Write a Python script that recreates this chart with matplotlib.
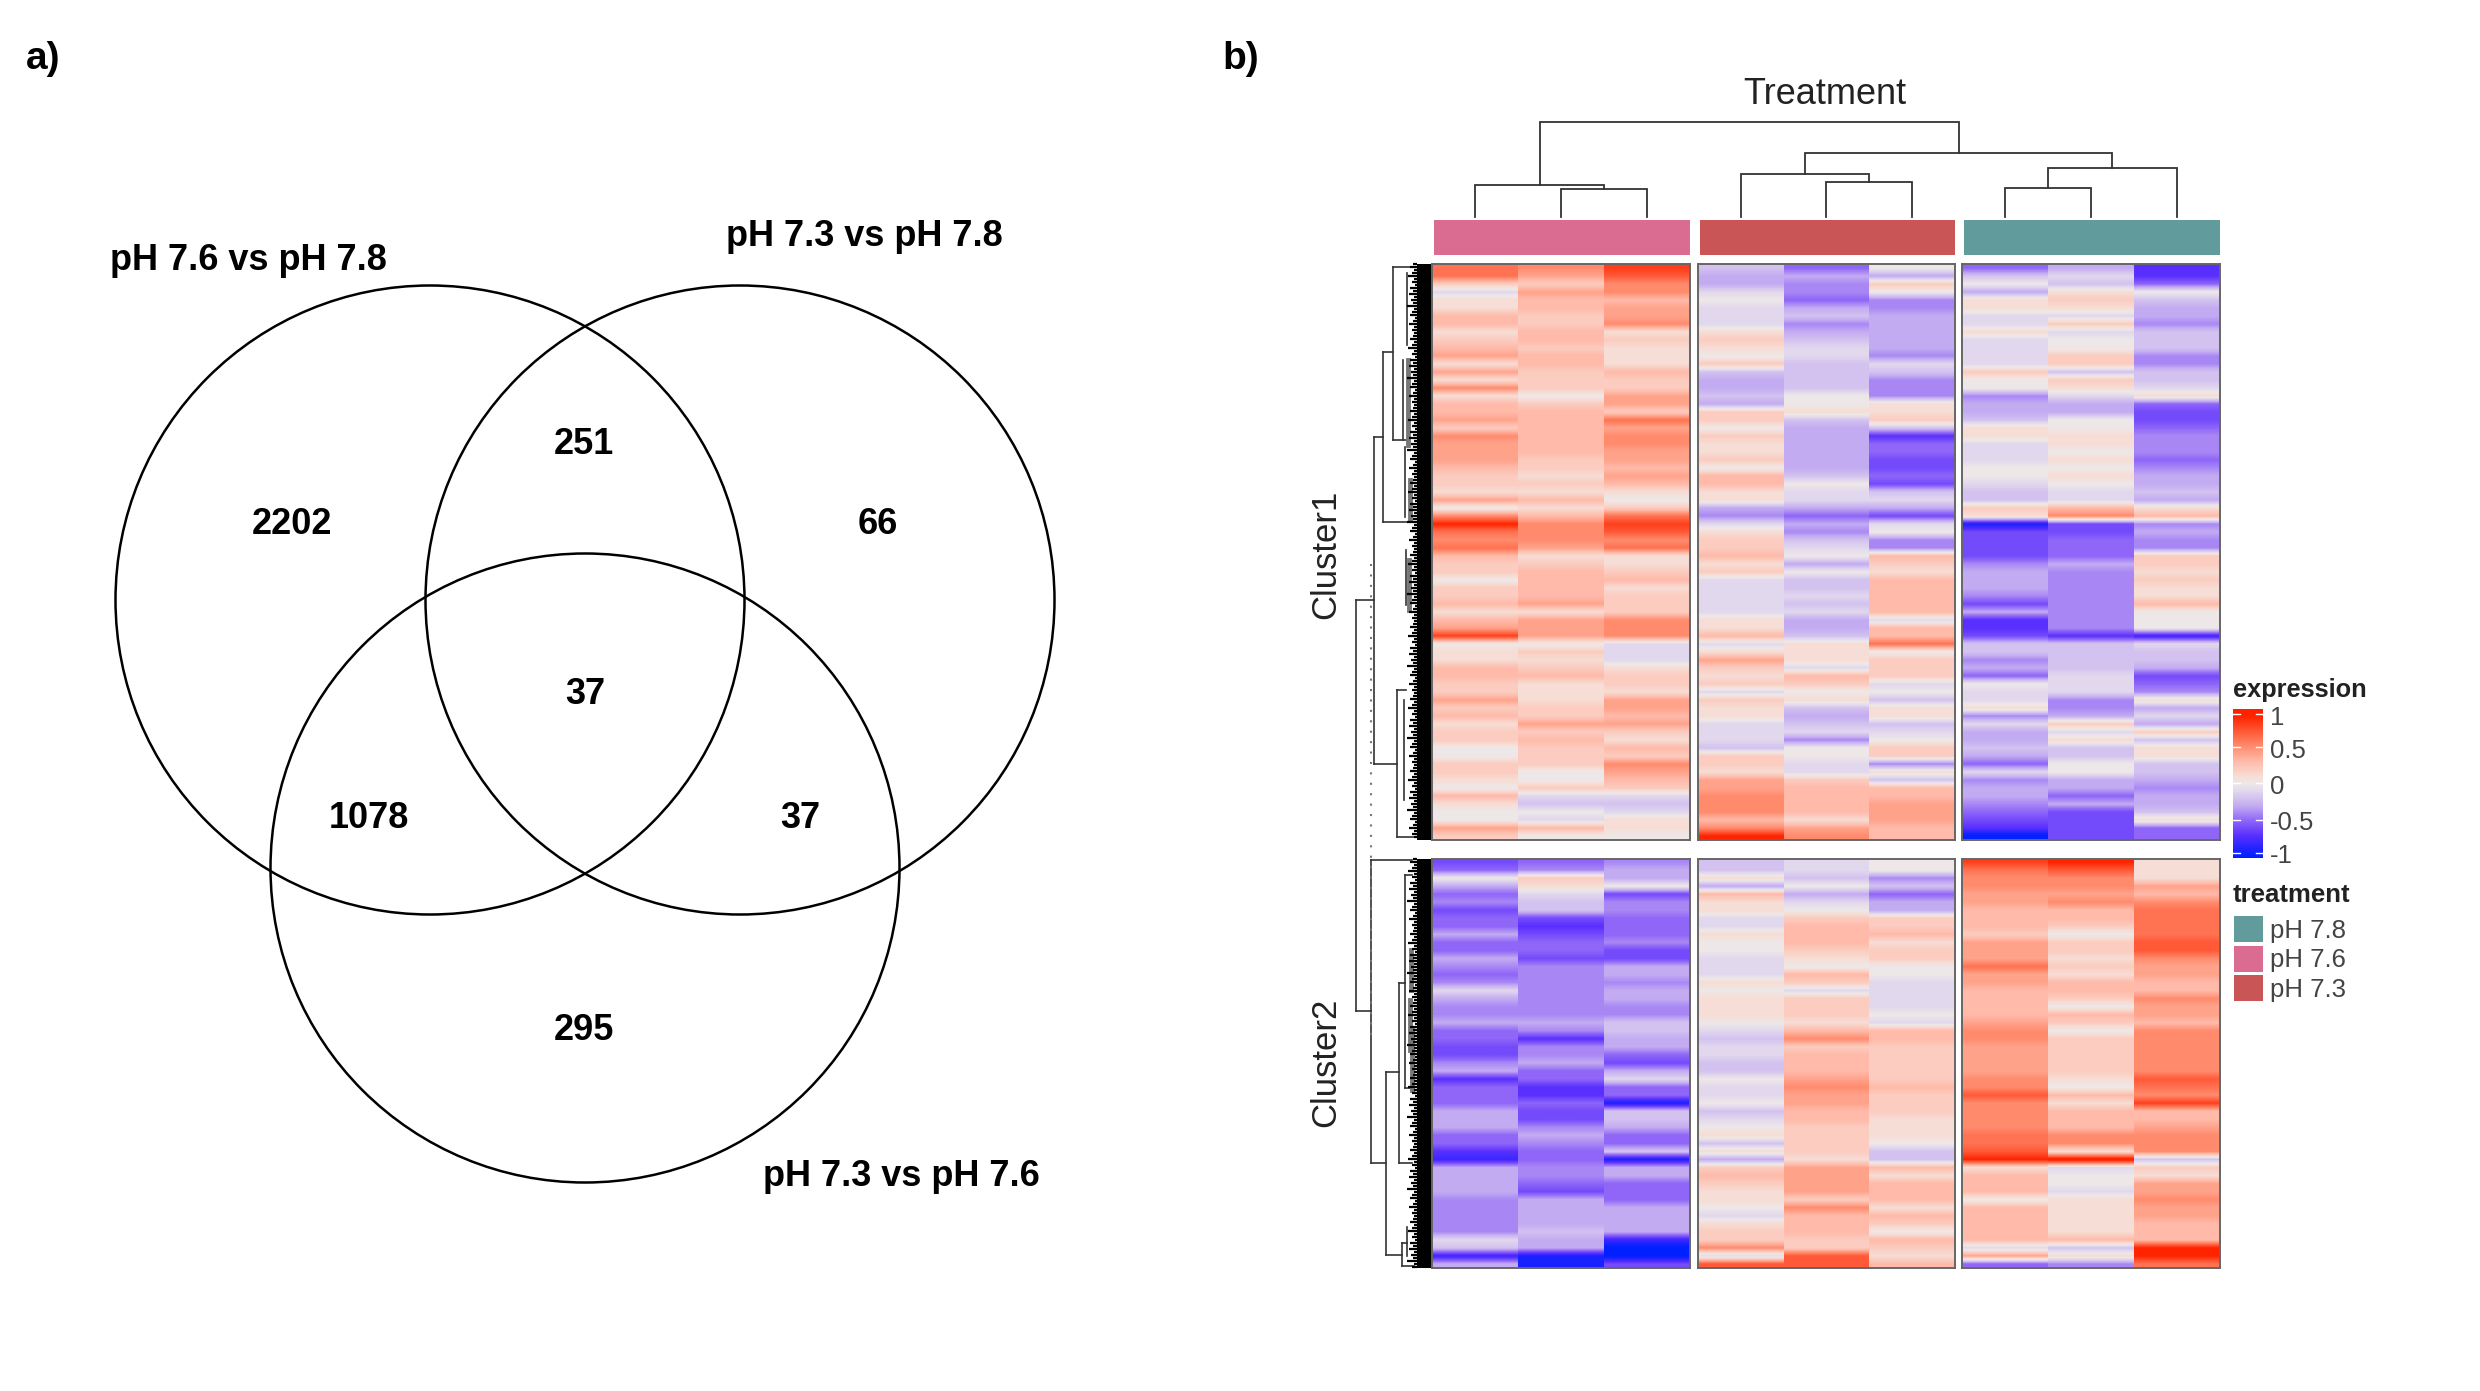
"""Venn of DE genes (a) and clustered expression heatmap (b) for the pH treatments."""
import numpy as np
import matplotlib
matplotlib.use("Agg")
import matplotlib.pyplot as plt
from matplotlib.colors import LinearSegmentedColormap
from matplotlib.patches import Circle, Rectangle

plt.rcParams["font.family"] = ["Liberation Sans", "DejaVu Sans"]
W, H = 2480, 1391

# panel a
VENN_SETS = ["pH 7.6 vs pH 7.8", "pH 7.3 vs pH 7.8", "pH 7.3 vs pH 7.6"]
VENN_COUNTS = [2202, 251, 66, 37, 1078, 37, 295]
VENN_COUNT_XY = [(292, 524), (584, 445), (878, 524), (585, 694), (369, 819), (800, 819), (584, 1031)]
VENN_LABEL_XY = [(248, 261), (864, 237), (901, 1176)]
VENN_CIRCLES = [(430, 600), (740, 600), (585, 868)]

# panel b, row-scaled expression in tenths, one list per sample, top row first
C1_76A = [6,6,2,-1,1,1,3,3,1,2,3,4,1,4,1,5,1,3,3,4,2,5,4,4, 4,3,2,2,1,4,0,5,9,6,5,6,3,2,2,0,2,2,3,1,3,4,8,0, 1,1,3,3,2,2,4,2,3,1,2,2,0,0,2,2,1,0,3,1,0,0,4,2]
C1_76B = [5,4,2,4,3,3,2,2,3,3,2,3,3,2,2,2,0,2,3,3,3,3,3,3, 2,2,1,2,1,3,1,3,5,5,5,4,1,2,3,3,3,3,4,1,4,4,4,0, 2,1,2,3,1,1,1,2,2,4,2,3,2,2,2,0,0,2,-1,-2,0,-1,3,0]
C1_76C = [8,7,5,5,3,4,4,5,1,2,1,1,1,3,2,2,4,4,2,6,4,5,5,4, 4,3,4,3,1,0,2,6,8,7,5,6,1,1,2,3,1,2,2,2,5,5,5,-1, -1,-1,1,2,2,1,4,4,3,4,2,1,3,2,5,4,3,2,-1,-2,-1,1,1,0]
C1_73A = [-2,-3,-3,-1,0,-1,-1,-1,1,2,1,0,2,-2,-3,-3,-2,-3,2,2,0,2,1,1, 2,0,3,3,1,1,-3,-4,-1,1,2,2,3,1,2,-1,-1,-1,-1,-1,1,1,3,-1, 1,4,2,1,2,-1,2,1,1,-1,-1,-1,-2,2,2,1,4,4,5,5,5,3,5,9]
C1_73B = [-5,-3,-4,-4,-5,-3,-2,-4,-3,-2,-1,-1,-2,-2,-2,-2,0,0,1,-2,-3,-3,-3,-3, -3,-3,-2,0,-1,-1,-3,-5,-3,-4,-2,-1,0,-3,0,-2,-2,-1,-2,-1,-3,-3,-2,1, 1,1,-1,3,2,0,1,-2,-3,-2,-1,-4,0,0,-1,-1,2,3,3,3,3,1,4,5]
C1_73C = [0,-3,2,0,-4,-4,-3,-3,-3,-3,-3,-4,-1,-2,-4,-4,-4,1,1,2,-2,-7,-5,-5, -6,-6,-5,-6,-2,-1,-3,-6,-1,0,-4,-4,3,2,1,3,3,3,3,3,-1,3,3,6, 0,2,2,2,-1,0,-2,1,1,-2,-1,0,2,2,-4,1,-2,3,3,4,4,4,3,3]
C1_78A = [-5,-2,0,-3,1,1,-1,-1,1,-1,-1,-1,-1,2,0,0,-4,-3,-3,-2,1,1,-1,-1, -1,0,0,-1,-2,-2,2,1,-9,-6,-6,-6,-6,-4,-3,-3,-3,-4,-6,-3,-7,-7,-6,-2, -2,-4,-3,-5,0,-1,-1,1,-4,-1,-3,-3,-2,-3,-5,-1,-4,-3,-3,-4,-5,-6,-7,-10]
C1_78B = [-3,-1,-2,1,2,1,-1,2,-1,0,0,2,2,-2,2,1,-1,-3,-3,0,0,1,1,0, 1,0,1,0,-1,-1,3,5,-6,-6,-5,-5,-5,-3,-4,-4,-4,-4,-4,-4,-4,-4,-7,-2, -2,-2,-2,-1,-1,-1,-4,-4,-3,2,-1,1,-2,-2,0,0,-3,-3,-5,-3,-6,-6,-6,-6]
C1_78C = [-7,-7,-5,0,-2,-3,-3,-4,-2,-2,-2,-4,-4,-2,-2,-1,1,-5,-6,-6,-5,-4,-4,-4, -5,-4,-3,-3,-2,-3,1,3,-4,-3,-4,-4,2,2,1,2,1,1,3,0,0,0,-8,-1, -2,-2,-3,-6,-5,-4,1,-3,-1,-3,2,-2,1,1,-2,-2,-3,-4,-3,-3,-2,1,-5,-5]

C2_76A = [-6,-5,0,-3,-5,-4,-6,-5,-5,-3,-5,-5,-3,-4,-5,-4,-1,-3,-4,-4,-3,-5,-5,-6,-6,-4, -3,-7,-5,-5,-5,-3,-3,-3,-5,-5,-7,-8,-3,-3,-3,-3,-4,-4,-4,-4,-4,-1,-2,-8,-3]
C2_76B = [-5,-4,2,1,-1,-2,-2,-6,-7,-6,-5,-5,-6,-4,-4,-4,-4,-4,-4,-4,-3,-4,-7,-4,-4,-3, -5,-5,-7,-7,-5,-6,-6,-4,-3,-4,-5,-5,-4,-4,-5,-6,-3,-3,-3,-3,-2,-3,-3,-9,-9]
C2_76C = [-4,-3,-3,0,-6,-4,-4,-5,-5,-5,-4,-6,-6,-3,-3,-4,-3,-3,-4,-4,-2,-2,-3,-3,-5,-6, -3,-1,-5,-5,-9,-2,-2,-3,-5,-5,-2,-9,-3,-3,-5,-5,-5,-3,-3,-3,-3,-8,-10,-10,-6]
C2_73A = [-2,-2,1,-3,3,1,1,-1,-1,1,0,0,-1,-1,-1,1,0,1,1,1,0,-1,-2,-1,-1,-2, -2,0,-1,-1,0,-2,-1,0,1,-2,1,-3,2,3,2,1,1,0,-1,1,2,2,5,-1,7]
C2_73B = [-1,-1,-2,0,-3,-1,0,2,3,3,3,2,1,0,3,2,-1,2,2,2,1,3,5,2,3,3, 3,4,5,4,4,3,3,2,2,2,2,1,4,4,4,4,2,5,3,3,3,2,2,7,7]
C2_73C = [0,0,-4,-2,-5,-3,-3,2,2,3,1,2,2,0,0,-1,-1,-1,-1,0,-1,3,3,2,2,2, 2,2,3,2,2,2,1,1,1,0,-2,-2,3,1,3,3,3,1,3,2,0,3,2,1,3]
C2_78A = [8,6,5,5,4,4,3,3,3,2,4,4,4,6,4,4,3,3,3,3,4,5,5,4,4,4, 4,5,5,7,5,5,5,5,6,6,7,9,1,3,3,3,0,3,3,3,3,3,-1,4,-5]
C2_78B = [9,7,5,5,4,5,3,3,2,0,2,2,1,2,1,3,3,2,0,3,2,0,2,2,2,2, 2,1,0,3,1,3,3,3,5,5,1,10,-1,0,0,-1,1,1,1,1,1,3,-2,1,-4]
C2_78C = [1,1,1,4,3,5,6,6,6,6,7,7,5,4,4,3,3,5,4,4,3,5,5,5,5,5, 5,7,6,5,8,3,3,4,5,5,5,-2,2,1,4,4,5,4,4,3,3,3,9,9,6]

TREATMENTS = ["pH 7.8", "pH 7.6", "pH 7.3"]
TREAT_COLORS = {"pH 7.8": "#619B9C", "pH 7.6": "#DA6C91", "pH 7.3": "#CA5556"}
EXPR_TICKS = [1, 0.5, 0, -0.5, -1]
EXPR_TICK_LABELS = ["1", "0.5", "0", "-0.5", "-1"]

# top dendrogram: nested (left, right, merge height), leaves are sample positions 0-8
TOP_TREE = (((0, (1, 2, 28), 32), ((3, (4, 5, 35), 43), ((6, 7, 29), 8, 49), 64), 95))
# left dendrogram, the few big branches that can be read: depth x, from y, to y
LEFT_V = [(1393, 267, 440), (1383, 352, 522), (1374, 437, 764), (1356, 600, 1011), (1397, 690, 837),
          (1407, 273, 345), (1403, 360, 440), (1405, 447, 517), (1406, 550, 605), (1404, 700, 800),
          (1371, 860, 1163), (1386, 1072, 1255), (1399, 983, 1163), (1405, 875, 1088),
          (1402, 1243, 1266), (1407, 1227, 1256)]
LEFT_H = [(267, 1393, 1412), (437, 1374, 1383), (440, 1393, 1407), (352, 1383, 1393), (522, 1383, 1414),
          (600, 1356, 1374), (764, 1374, 1397), (690, 1397, 1406), (837, 1397, 1414), (1011, 1356, 1371),
          (860, 1371, 1412), (1163, 1371, 1386), (1163, 1399, 1412), (1072, 1386, 1399), (983, 1399, 1405),
          (1088, 1405, 1411), (1255, 1386, 1402), (875, 1405, 1412), (1243, 1402, 1407), (1266, 1402, 1414)]
LEFT_GREY = [(1408, 360, 445), (1410, 480, 520), (1409, 560, 610), (1411, 950, 990), (1410, 1000, 1050), (1412, 1030, 1090)]
LEAF_JAG = [7, 12, 5, 9, 16, 6, 10, 4, 13, 8, 15, 5, 11, 7, 18, 6, 9, 12, 4, 8, 14, 6, 10, 5]  # how far leaf stems stick out

cmap = LinearSegmentedColormap.from_list("expr", [(0, "#0020FF"), (0.05, "#1A22FF"), (0.15, "#5A30FF"), (0.25, "#8F66F8"),
                                                  (0.35, "#C4ACF2"), (0.45, "#E2D8EE"), (0.5, "#EEE8E8"), (0.55, "#F7DDD5"),
                                                  (0.65, "#FFBBAA"), (0.75, "#FF8C6E"), (0.85, "#FF5A38"), (0.95, "#FF2400"), (1, "#FF2000")])

fig = plt.figure(figsize=(W / 100, H / 100), dpi=100, facecolor="white")
bg = fig.add_axes([0, 0, 1, 1]); bg.set_xlim(0, W); bg.set_ylim(H, 0); bg.axis("off")


def axes_px(x0, y0, x1, y1):
    return fig.add_axes([x0 / W, 1 - y1 / H, (x1 - x0) / W, (y1 - y0) / H])


bg.text(26, 59, "a)", fontsize=28, fontweight="bold", ha="left", va="center")
bg.text(1222, 59, "b)", fontsize=28, fontweight="bold", ha="left", va="center")
for (cx, cy) in VENN_CIRCLES:
    bg.add_patch(Circle((cx, cy), 314.5, fill=False, ec="black", lw=1.8))
for name, (x, y) in zip(VENN_SETS, VENN_LABEL_XY):
    bg.text(x, y, name, fontsize=26, fontweight="bold", ha="center", va="center")
for n, (x, y) in zip(VENN_COUNTS, VENN_COUNT_XY):
    bg.text(x, y, str(n), fontsize=26, fontweight="bold", ha="center", va="center")

# heatmap panels
groups = [(1432, 1690, "pH 7.6"), (1698, 1954.5, "pH 7.3"), (1962, 2219.5, "pH 7.8")]
c1 = [[C1_76A, C1_76B, C1_76C], [C1_73A, C1_73B, C1_73C], [C1_78A, C1_78B, C1_78C]]
c2 = [[C2_76A, C2_76B, C2_76C], [C2_73A, C2_73B, C2_73C], [C2_78A, C2_78B, C2_78C]]
leaf_x = []
for (x0, x1, tr), m1, m2 in zip(groups, c1, c2):
    bg.add_patch(Rectangle((x0 + 1.5, 220), x1 - x0 - 1.5, 35, fc=TREAT_COLORS[tr], ec="none"))
    leaf_x += [x0 + (x1 - x0) * (i + 0.5) / 3 for i in range(3)]
    for m, y0, y1 in ((m1, 264, 840), (m2, 858.5, 1268)):
        ax = axes_px(x0, y0, x1, y1)
        # one image per sample so the low-res blur runs along the rows only
        for j, col in enumerate(m):
            ax.imshow(np.array(col)[:, None] / 10, cmap=cmap, vmin=-1, vmax=1, aspect="auto",
                      interpolation="bilinear", extent=[j, j + 1, len(col), 0])
        ax.set_xlim(0, 3); ax.set_ylim(len(m[0]), 0)
        ax.set_xticks([]); ax.set_yticks([])
        for s in ax.spines.values():
            s.set_color("#666666"); s.set_linewidth(1.4)


def draw_top(node):
    # returns x of the node, draws the branch lines on the way
    if not isinstance(node, tuple):
        return leaf_x[node], 0
    xa, ha = draw_top(node[0]); xb, hb = draw_top(node[1]); h = node[2]
    bg.plot([xa, xa, xb, xb], [217 - ha, 217 - h, 217 - h, 217 - hb], color="#333333", lw=1.3, solid_joinstyle="miter")
    return (xa + xb) / 2, h


draw_top(TOP_TREE)
bg.text(1825, 95, "Treatment", fontsize=26, color="#222222", ha="center", va="center")

# row dendrogram
for x, a, b in LEFT_V:
    bg.plot([x, x], [a, b], color="#333333", lw=1.2)
for y, a, b in LEFT_H:
    bg.plot([a, b], [y, y], color="#333333", lw=1.2)
for x, a, b in LEFT_GREY:
    bg.plot([x, x], [a, b], color="#777777", lw=3.5)
bg.plot([1371, 1371], [564, 1040], color="#777777", lw=1.5, ls=(0, (1, 4)))
for y0, y1 in ((264, 840), (858.5, 1268)):
    bg.add_patch(Rectangle((1417, y0), 15, y1 - y0, fc="black", ec="none"))
    ys = np.arange(y0, y1, 3.0)
    bg.hlines(ys, 1417 - np.resize(LEAF_JAG, len(ys)) * 0.55, 1417, color="black", lw=1.6)
bg.text(1326, 554, "Cluster1", fontsize=25, color="#222222", rotation=90, ha="center", va="center")
bg.text(1326, 1062, "Cluster2", fontsize=25, color="#222222", rotation=90, ha="center", va="center")

# legends
bg.text(2233, 690, "expression", fontsize=18.3, fontweight="bold", color="#222222", ha="left", va="center")
cb = axes_px(2233, 709, 2263, 858)
cb.imshow(np.linspace(1, -1, 256)[:, None], cmap=cmap, vmin=-1, vmax=1, aspect="auto", extent=[0, 1, -1.03, 1.03])
cb.axis("off")
for v, lab in zip(EXPR_TICKS, EXPR_TICK_LABELS):
    yv = min(max(v, -0.965), 0.965)
    cb.plot([0, 0.22], [yv, yv], color="white", lw=1); cb.plot([0.78, 1], [yv, yv], color="white", lw=1)
    bg.text(2270, 787 - 72 * yv, lab, fontsize=18.5, color="#444444", ha="left", va="center")
cb.set_xlim(0, 1); cb.set_ylim(-1.03, 1.03)
bg.text(2233, 895, "treatment", fontsize=18.5, fontweight="bold", color="#222222", ha="left", va="center")
for i, tr in enumerate(TREATMENTS):
    bg.add_patch(Rectangle((2234, 916 + i * 29.5), 29, 26, fc=TREAT_COLORS[tr], ec="none"))
    bg.text(2270, 931 + i * 29.5, tr, fontsize=18.5, color="#444444", ha="left", va="center")

fig.savefig("out.png", dpi=100)
